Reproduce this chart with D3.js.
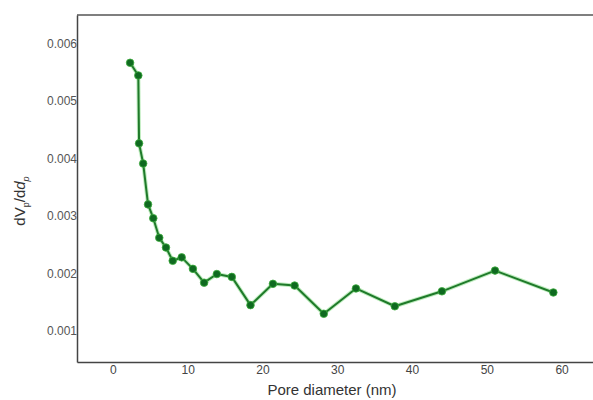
<!DOCTYPE html>
<html>
<head>
<meta charset="utf-8">
<script src="https://cdn.jsdelivr.net/npm/d3@7"></script>
<style>
  html, body { margin: 0; padding: 0; background: #fff; }
  svg { display: block; }
</style>
</head>
<body>
<svg id="chart" width="593" height="400"></svg>
<script>
// Pore size distribution (BJH-style) — pore diameter in nm vs dVp/ddp
const poreDiameter = [2.3, 3.4, 3.5, 4.05, 4.7, 5.4, 6.2, 7.1, 8.0, 9.2, 10.7, 12.2, 13.9, 15.9, 18.4, 21.4, 24.3, 28.2, 32.5, 37.7, 44.0, 51.1, 58.9];
const dVdD = [0.00566, 0.00544, 0.00426, 0.00391, 0.00320, 0.00296, 0.00262, 0.00245, 0.00222, 0.00228, 0.00208, 0.00184, 0.00199, 0.00194, 0.00145, 0.00182, 0.00179, 0.00130, 0.00174, 0.00143, 0.00169, 0.00205, 0.00167];
const xTicks = [0, 10, 20, 30, 40, 50, 60];
const yTicks = [0.001, 0.002, 0.003, 0.004, 0.005, 0.006];

const plot = { left: 77, top: 15, right: 593, bottom: 362 };

const svg = d3.select("#chart");

const x = d3.scaleLinear().domain([-4.8, 64.2]).range([plot.left, plot.right]);
const y = d3.scaleLinear().domain([0.000462, 0.00649]).range([plot.bottom, plot.top]);

// frame: top rule, left and bottom axes
svg.append("line")
  .attr("x1", plot.left).attr("x2", plot.right)
  .attr("y1", plot.top).attr("y2", plot.top)
  .attr("stroke", "#555").attr("stroke-width", 1.5);

const xAxis = svg.append("g")
  .attr("transform", `translate(0,${plot.bottom})`)
  .call(d3.axisBottom(x).tickValues(xTicks).tickSize(0).tickPadding(3).tickFormat(d3.format("d")));
xAxis.select(".domain").attr("stroke", "#444").attr("stroke-width", 1.5);
xAxis.selectAll("text")
  .attr("font-family", "Liberation Sans, Arial, sans-serif")
  .attr("font-size", 12).attr("fill", "#444");

const yAxis = svg.append("g")
  .attr("transform", `translate(${plot.left},0)`)
  .call(d3.axisLeft(y).tickValues(yTicks).tickSize(0).tickPadding(0).tickFormat(d3.format(".3f")));
yAxis.select(".domain").attr("stroke", "#444").attr("stroke-width", 1.5);
yAxis.selectAll("text")
  .attr("font-family", "Liberation Sans, Arial, sans-serif")
  .attr("font-size", 12).attr("fill", "#555");

// axis titles
svg.append("text")
  .attr("x", (plot.left + plot.right) / 2 - 3)
  .attr("y", 395)
  .attr("text-anchor", "middle")
  .attr("font-family", "Liberation Sans, Arial, sans-serif")
  .attr("font-size", 15).attr("fill", "#333")
  .text("Pore diameter (nm)");

const yTitle = svg.append("text")
  .attr("transform", "translate(25,201) rotate(-90)")
  .attr("text-anchor", "middle")
  .attr("font-family", "Liberation Sans, Arial, sans-serif")
  .attr("font-size", 15).attr("fill", "#333");
yTitle.append("tspan").text("dV");
yTitle.append("tspan").attr("font-size", 9).attr("dy", 4).text("p");
yTitle.append("tspan").attr("dy", -4).text("/d");
yTitle.append("tspan").attr("font-style", "italic").text("d");
yTitle.append("tspan").attr("font-style", "italic").attr("font-size", 9).attr("dy", 4).text("p");

// series
const pts = poreDiameter.map((d, i) => [d, dVdD[i]]);
const line = d3.line().x(d => x(d[0])).y(d => y(d[1]));

svg.append("path").datum(pts)
  .attr("d", line).attr("fill", "none")
  .attr("stroke", "#6fd46f").attr("stroke-width", 4).attr("stroke-opacity", 0.45)
  .attr("stroke-linejoin", "round");
svg.append("path").datum(pts)
  .attr("d", line).attr("fill", "none")
  .attr("stroke", "#1f7a2a").attr("stroke-width", 2)
  .attr("stroke-linejoin", "round");

svg.append("g").selectAll("circle").data(pts).join("circle")
  .attr("cx", d => x(d[0])).attr("cy", d => y(d[1]))
  .attr("r", 3.8)
  .attr("fill", "#0f6a20")
  .attr("stroke", "#3fae3f").attr("stroke-width", 0.8);
</script>
</body>
</html>
